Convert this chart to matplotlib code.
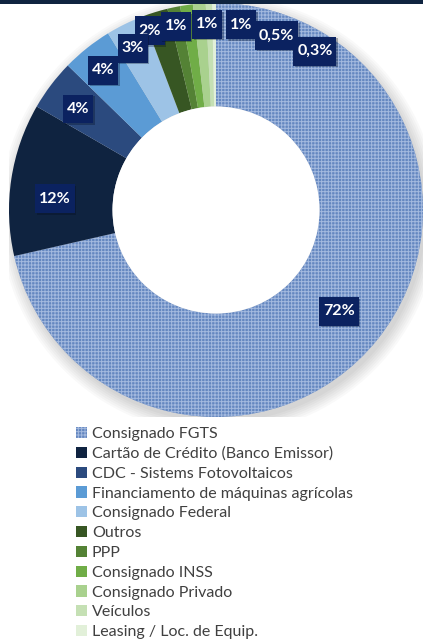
import matplotlib.pyplot as plt
import numpy as np
from matplotlib.patches import Rectangle, Circle
from matplotlib.path import Path
import matplotlib.patheffects as pe

plt.rcParams['hatch.linewidth'] = 0.7

categories = ['Consignado FGTS',
              'Cartão de Crédito (Banco Emissor)',
              'CDC - Sistems Fotovoltaicos',
              'Financiamento de máquinas agrícolas',
              'Consignado Federal',
              'Outros',
              'PPP',
              'Consignado INSS',
              'Consignado Privado',
              'Veículos',
              'Leasing / Loc. de Equip.']
shares = [72, 12, 4, 4, 3, 2, 1, 1, 1, 0.5, 0.3]
labels = ['72%', '12%', '4%', '4%', '3%', '2%', '1%', '1%', '1%', '0,5%', '0,3%']

colors = ['#6487C0', '#0F2340', '#2B4A7E', '#5B9BD5', '#9DC3E6',
          '#375623', '#548235', '#70AD47', '#A9D18E', '#C5E0B4', '#E2F0D9']

# label nudges (degrees) and radii, mimicking the hand-placed labels
nudge = [-0.5, 4, 0.5, 0, 1.0, 3.0, 0.5, -5.5, -12.4, -21, -32.2]
lab_r = [0.765, 0.78, 0.83, 0.873, 0.885, 0.93, 0.915, 0.905, 0.91, 0.90, 0.91]
lab_z = [5, 5, 5, 5, 7, 6, 6, 6, 6, 6, 6]


def label_box(x0, y0, width, height, mutation_size):
    padx = 0.24 * mutation_size
    h = 1.8 * mutation_size
    yc = y0 + height / 2
    return Path([(x0 - padx, yc - h / 2), (x0 + width + padx, yc - h / 2),
                 (x0 + width + padx, yc + h / 2), (x0 - padx, yc + h / 2),
                 (x0 - padx, yc - h / 2)], closed=True)


fig = plt.figure(figsize=(4.23, 6.42), dpi=100)
W, H = 423, 642
cx, cy, R = 216, 210, 207
ax = fig.add_axes([(cx - R) / W, (H - cy - R) / H, 2 * R / W, 2 * R / H])

# soft shadow behind ring
for k in range(7):
    ax.add_patch(Circle((0.015, -0.025), 1.0 + 0.01 * k, color='#000000',
                        alpha=0.022, lw=0, zorder=0))

wedges, _ = ax.pie(shares, colors=colors, startangle=90, counterclock=False,
                   radius=1.0, wedgeprops=dict(width=0.5, linewidth=0))
for w in wedges:
    w.set_zorder(2)
wedges[0].set_hatch('+++++')
wedges[0].set_edgecolor('#A3B9DE')
wedges[0].set_linewidth(0)

ax.add_patch(Circle((0, 0), 0.5, color='white', zorder=3, lw=0))

total = sum(shares)
cum = np.cumsum([0] + shares[:-1])
for i, lab in enumerate(labels):
    mid = 90 - (cum[i] + shares[i] / 2) / total * 360 + nudge[i]
    a = np.deg2rad(mid)
    t = ax.text(lab_r[i] * np.cos(a), lab_r[i] * np.sin(a), lab,
                ha='center', va='center_baseline', color='white', fontsize=11.5,
                fontweight='bold', family='Lato', zorder=lab_z[i],
                bbox=dict(boxstyle=label_box, fc='#0B2260', ec='none'))
    t.get_bbox_patch().set_path_effects(
        [pe.SimplePatchShadow(offset=(1.2, -1.2), alpha=0.3), pe.Normal()])

ax.set_xlim(-1, 1)
ax.set_ylim(-1, 1)
ax.set_aspect('equal')
ax.axis('off')

fig.add_artist(Rectangle((0, 1 - 4 / H), 1, 4 / H, transform=fig.transFigure,
                         color='#0F2440', lw=0))

leg = fig.legend(wedges, categories, loc='upper left',
                 bbox_to_anchor=(76 / W, 1 - 427 / H), frameon=False,
                 prop=dict(family='Lato', size=11.5), labelcolor='#404040',
                 handlelength=0.7, handleheight=0.7, handletextpad=0.3,
                 labelspacing=0.35, borderaxespad=0, borderpad=0)

fig.savefig('out.png', dpi=100)
